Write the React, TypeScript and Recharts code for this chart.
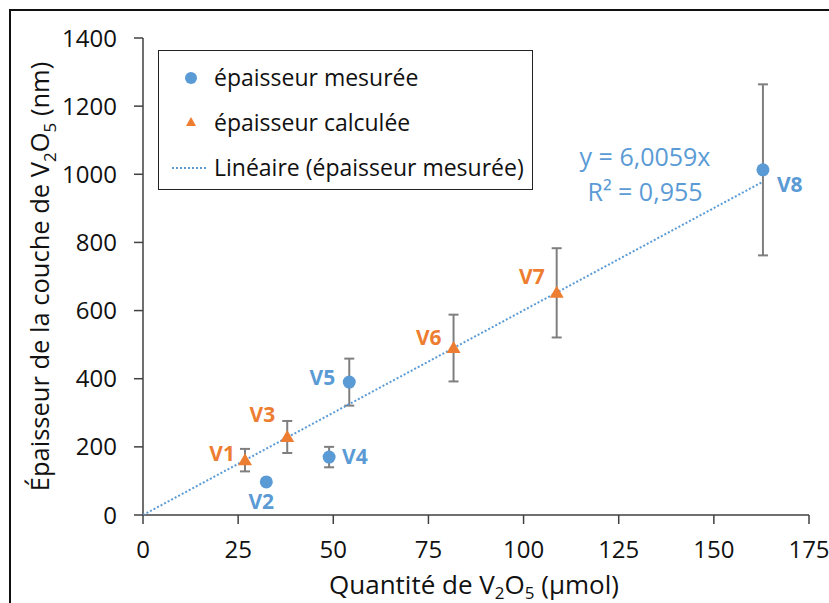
import {
  ComposedChart,
  Scatter,
  XAxis,
  YAxis,
  ErrorBar,
} from "recharts";

const BLUE = "#5B9BD5";
const ORANGE = "#ED7D31";
const AXIS = "#404040";
const FONT = "'Open Sans', 'Noto Sans', sans-serif";

// measured thickness (blue dots)
const measuredNames = ["V2", "V4", "V5", "V8"];
const measuredX = [32.4, 48.9, 54.2, 162.9];
const measuredY = [97, 170, 390, 1013];
const measuredErr = [0, 30, 69, 251];

// calculated thickness (orange triangles)
const calcNames = ["V1", "V3", "V6", "V7"];
const calcX = [26.8, 37.9, 81.6, 108.7];
const calcY = [161, 229, 490, 652];
const calcErr = [33, 47, 98, 131];

// linear fit through origin, fitted on the measured series
const slope = 6.0059;
const trendX = [0, 162.9];

const xTicks = [0, 25, 50, 75, 100, 125, 150, 175];
const yTicks = [0, 200, 400, 600, 800, 1000, 1200, 1400];

const measured = measuredNames.map((name, i) => ({
  name,
  x: measuredX[i],
  y: measuredY[i],
  err: measuredErr[i],
}));
const calculated = calcNames.map((name, i) => ({
  name,
  x: calcX[i],
  y: calcY[i],
  err: calcErr[i],
}));
const trend = trendX.map((x) => ({ x, y: slope * x }));

// where each point label sits relative to its marker (dx, dy, anchor)
const labelPlace: Record<string, [number, number, "start" | "middle" | "end"]> = {
  V1: [-10, -6, "end"],
  V2: [-5, 20, "middle"],
  V3: [-12, -22, "end"],
  V4: [13, 0, "start"],
  V5: [-14, -4, "end"],
  V6: [-12, -10, "end"],
  V7: [-12, -16, "end"],
  V8: [14, 15, "start"],
};

const PointLabel = ({ cx, cy, name, color }: any) => {
  const p = labelPlace[name] || [0, 0, "middle"];
  return (
    <text
      x={cx + p[0]}
      y={cy + p[1]}
      dy="0.35em"
      textAnchor={p[2]}
      fill={color}
      fontFamily={FONT}
      fontSize={21}
      fontWeight={700}
    >
      {name}
    </text>
  );
};

const Dot = (props: any) => {
  const { cx, cy, payload } = props;
  return (
    <g>
      <circle cx={cx} cy={cy} r={6.5} fill={BLUE} />
      <PointLabel cx={cx} cy={cy} name={payload.name} color={BLUE} />
    </g>
  );
};

const Tri = (props: any) => {
  const { cx, cy, payload } = props;
  return (
    <g>
      <path d={`M${cx},${cy - 7} L${cx + 7},${cy + 5} L${cx - 7},${cy + 5} Z`} fill={ORANGE} />
      <PointLabel cx={cx} cy={cy} name={payload.name} color={ORANGE} />
    </g>
  );
};

const legendRows = [
  {
    mark: <circle cx={32} cy={12} r={6} fill={BLUE} />,
    text: "épaisseur mesurée",
  },
  {
    mark: <path d="M32,6 L37,15 L27,15 Z" fill={ORANGE} />,
    text: "épaisseur calculée",
  },
  {
    mark: (
      <line x1={13} y1={12} x2={49} y2={12} stroke={BLUE} strokeWidth={2} strokeDasharray="2 2" />
    ),
    text: "Linéaire (épaisseur mesurée)",
  },
];

const LegendBox = () => (
  <div
    style={{
      position: "absolute",
      left: 158,
      top: 50,
      boxSizing: "border-box",
      width: 375,
      height: 140,
      border: "1.5px solid #222",
      background: "#fff",
      fontFamily: FONT,
      fontSize: 23,
      color: "#111",
      paddingTop: 4,
    }}
  >
    {legendRows.map((row, i) => (
      <div key={i} style={{ display: "flex", alignItems: "center", height: 45 }}>
        <svg width={55} height={24}>
          {row.mark}
        </svg>
        <span style={{ lineHeight: 1, whiteSpace: "nowrap" }}>{row.text}</span>
      </div>
    ))}
  </div>
);

const Equation = () => (
  <div
    style={{
      position: "absolute",
      left: 545,
      top: 139,
      width: 200,
      textAlign: "center",
      fontFamily: FONT,
      fontSize: 25,
      lineHeight: "35px",
      color: BLUE,
    }}
  >
    <div>y = 6,0059x</div>
    <div>R² = 0,955</div>
  </div>
);

const YTitle = ({ viewBox }: any) => {
  const cx = 40;
  const cy = viewBox ? viewBox.y + viewBox.height / 2 : 276;
  return (
    <text
      transform={`translate(${cx},${cy}) rotate(-90)`}
      textAnchor="middle"
      dy="0.35em"
      fill="#111"
      fontFamily={FONT}
      fontSize={25.5}
    >
      Épaisseur de la couche de V
      <tspan dy={7} fontSize={17}>2</tspan>
      <tspan dy={-7}>O</tspan>
      <tspan dy={7} fontSize={17}>5</tspan>
      <tspan dy={-7}> (nm)</tspan>
    </text>
  );
};

const XTitle = ({ viewBox }: any) => {
  const cx = viewBox ? viewBox.x + viewBox.width / 2 - 2 : 475;
  return (
    <text x={cx} y={594} textAnchor="middle" fill="#111" fontFamily={FONT} fontSize={26}>
      Quantité de V
      <tspan dy={5} fontSize={17}>2</tspan>
      <tspan dy={-5}>O</tspan>
      <tspan dy={5} fontSize={17}>5</tspan>
      <tspan dy={-5}> (µmol)</tspan>
    </text>
  );
};

const tickStyle = { fill: "#111", fontFamily: FONT, fontSize: 24 };

export default function App() {
  return (
    <div
      style={{
        position: "absolute",
        left: 0,
        top: 0,
        width: 829,
        height: 603,
        overflow: "hidden",
        background: "#fff",
      }}
    >
      <div
        style={{
          position: "absolute",
          left: 9,
          top: 9,
          width: 820,
          height: 594,
          borderTop: "2px solid #111",
          borderLeft: "2px solid #111",
          boxSizing: "border-box",
        }}
      />
      <div style={{ position: "absolute", left: 0, top: 0 }}>
        <ComposedChart
          width={829}
          height={603}
          margin={{ top: 38, right: 20, bottom: 0, left: 0 }}
        >
          <XAxis
            xAxisId="b"
            type="number"
            dataKey="x"
            domain={[0, 175]}
            ticks={xTicks}
            height={88}
            tickSize={9}
            tickMargin={17}
            tick={tickStyle}
            axisLine={{ stroke: AXIS, strokeWidth: 1.5 }}
            tickLine={{ stroke: AXIS, strokeWidth: 1.5 }}
            label={<XTitle />}
            allowDataOverflow
          />
          <XAxis
            xAxisId="t"
            orientation="top"
            type="number"
            domain={[0, 175]}
            height={0}
            tick={false}
            tickLine={false}
            axisLine={{ stroke: AXIS, strokeWidth: 1.5 }}
          />
          <YAxis
            yAxisId="l"
            type="number"
            dataKey="y"
            domain={[0, 1400]}
            ticks={yTicks}
            width={143}
            tickSize={9}
            tickMargin={17}
            tick={tickStyle}
            axisLine={{ stroke: AXIS, strokeWidth: 1.5 }}
            tickLine={{ stroke: AXIS, strokeWidth: 1.5 }}
            label={<YTitle />}
            allowDataOverflow
          />
          <YAxis
            yAxisId="r"
            orientation="right"
            type="number"
            domain={[0, 1400]}
            width={0}
            tick={false}
            tickLine={false}
            axisLine={{ stroke: AXIS, strokeWidth: 1.5 }}
          />
          <Scatter
            name="Linéaire (épaisseur mesurée)"
            data={trend}
            xAxisId="b"
            yAxisId="l"
            line={{ stroke: BLUE, strokeWidth: 2, strokeDasharray: "2 2" }}
            shape={() => <g />}
            legendType="none"
            isAnimationActive={false}
          />
          <Scatter
            name="épaisseur mesurée"
            data={measured}
            xAxisId="b"
            yAxisId="l"
            fill={BLUE}
            shape={<Dot />}
            isAnimationActive={false}
          >
            <ErrorBar dataKey="err" direction="y" width={5} stroke="#7f7f7f" strokeWidth={2} />
          </Scatter>
          <Scatter
            name="épaisseur calculée"
            data={calculated}
            xAxisId="b"
            yAxisId="l"
            fill={ORANGE}
            shape={<Tri />}
            isAnimationActive={false}
          >
            <ErrorBar dataKey="err" direction="y" width={5} stroke="#7f7f7f" strokeWidth={2} />
          </Scatter>
        </ComposedChart>
      </div>
      <LegendBox />
      <Equation />
    </div>
  );
}
